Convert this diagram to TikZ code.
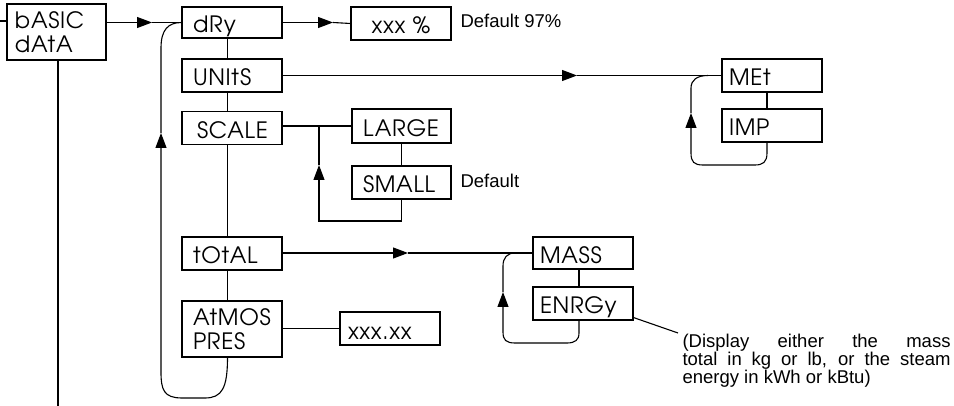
\documentclass[tikz,border=0pt]{standalone}
\usepackage{fontspec}
\setmainfont{Liberation Sans}
\newfontfamily\gfont{texgyreadventor-regular.otf}[LetterSpace=3]
\usetikzlibrary{arrows.meta}
\begin{document}
\begin{tikzpicture}[x=1pt,y=-1pt,line width=1.1pt,
  bx/.style={draw,minimum width=100pt,minimum height=33pt,inner ysep=0pt,
    text height=21pt,text depth=0pt,align=left,inner xsep=11pt,text width=78pt,
    font=\gfont\fontsize{22.5}{24}\selectfont},
  bxtwo/.style={draw,minimum width=100pt,minimum height=56pt,inner ysep=0pt,
    align=left,font=\gfont\fontsize{22.5}{23.5}\selectfont},
  note/.style={inner sep=0pt,font=\fontsize{18.5}{18}\selectfont},
  tip/.style={-{Triangle[length=15pt,width=11pt]}}]
\useasboundingbox (0,0) rectangle (954,406);

% boxes
\node[bxtwo,minimum width=99pt,inner xsep=8pt,text width=83pt] (basic) at (56.5,32) {bASIC\\dAtA};
\node[bx,minimum height=31pt] (dry) at (232,22.5) {dRy};
\node[bx] (units) at (232,75.5) {UNItS};
\node[bx,inner xsep=15pt,text width=70pt] (scale) at (232,128) {SCALE};
\node[bx] (total) at (232,253.5) {tOtAL};
\node[bxtwo,inner xsep=11pt,text width=78pt] (atmos) at (232,329) {AtMOS\\PRES};
\node[bx,align=center] (xxxp) at (401,23.5) {xxx \%};
\node[bx,minimum width=99pt,minimum height=34pt,text width=77pt] (large) at (401.5,126) {LARGE};
\node[bx,minimum width=99pt,text width=77pt] (small) at (401.5,182.5) {SMALL};
\node[bx,inner xsep=8pt,text width=84pt] (xx) at (390,328.5) {xxx.xx};
\node[bx,inner xsep=7pt,text width=86pt] (met) at (772,75.5) {MEt};
\node[bx,inner xsep=7pt,text width=86pt] (imp) at (772,125.5) {IMP};
\node[bx,inner xsep=7pt,text width=86pt,minimum height=32pt] (mass) at (583,253) {MASS};
\node[bx,inner xsep=7pt,text width=86pt] (enrgy) at (583,303.5) {ENRGy};

% notes
\node[note,anchor=base west] (d97) at (460,28) {Default 97\%};
\node[note,anchor=base west] (dsm) at (460,188) {Default};
\node[note,anchor=north west,align=left] (disp) at (682,333.5)
  {\makebox[268pt][s]{(Display either the mass}\\
   \makebox[268pt][s]{total in kg or lb, or the steam}\\
   energy in kWh or kBtu)};

% helper coordinates
\coordinate (spine) at (227.5,0);
\coordinate (mx) at (767,0);
\coordinate (ex) at (579,0);
\coordinate (stub) at (0,21);
\coordinate (ba) at (152,22.5);
\coordinate (da) at (333,22.5);
\coordinate (ua) at (577,75.5);
\coordinate (ta) at (408,253);
\coordinate (la) at (161,133);
\coordinate (sj) at (319,126);
\coordinate (sbl) at (319,221);
\coordinate (sa) at (319,165);
\coordinate (mj) at (708,75.5);
\coordinate (ma) at (691,113);
\coordinate (ej) at (515,253);
\coordinate (ea) at (503,292);
\coordinate (nt) at (678,333);
\coordinate (bl) at (58,406);

% left stub and basic data
\draw (stub) -- (stub -| basic.west);
\draw (basic.south -| 58,0) -- (bl);
\draw[tip] (basic.east |- dry.west) -- (ba);
\draw (ba) -- (dry.west);

% main spine
\draw (dry.south -| spine) -- (units.north -| spine);
\draw (units.south -| spine) -- (scale.north -| spine);
\draw (scale.south -| spine) -- (total.north -| spine);
\draw (total.south -| spine) -- (atmos.north -| spine);

% main return loop
\draw[tip] (atmos.south -| spine) .. controls (227.5,388) and (222,398) .. (205,398)
  -- (182,398) .. controls (164,398) and (161,390) .. (161,372) -- (la);
\draw (la) -- (161,48) .. controls (161,30) and (168,22.5) .. (dry.west);

% dry
\draw[tip] (dry.east) -- (da);
\draw (da) -- (xxxp.west);

% units
\draw[tip] (units.east) -- (ua);
\draw (ua) -- (met.west);
\draw (met.south -| mx) -- (imp.north -| mx);
\draw[tip] (imp.south -| mx) -- (767,153) .. controls (767,162) and (763,165) .. (755,165)
  -- (703,165) .. controls (694,165) and (691,162) .. (691,153) -- (ma);
\draw (ma) -- (691,88) .. controls (691,80) and (697,75.5) .. (mj);

% scale
\draw (scale.east |- large.west) -- (large.west);
\draw (large.south) -- (small.north);
\draw[tip] (small.south) |- (sbl) -- (sa);
\draw (sa) -- (sj);

% total
\draw[tip] (total.east |- mass.west) -- (ta);
\draw (ta) -- (mass.west);
\draw (mass.south -| ex) -- (enrgy.north -| ex);
\draw[tip] (enrgy.south -| ex) -- (579,333) .. controls (579,340) and (575,343) .. (567,343)
  -- (515,343) .. controls (506,343) and (503,340) .. (503,332) -- (ea);
\draw (ea) -- (503,266) .. controls (503,258) and (507,253) .. (ej);
\draw ([yshift=3pt]enrgy.south east) -- (nt);

% atmos
\draw (atmos.east |- xx.west) -- (xx.west);
\end{tikzpicture}
\end{document}
